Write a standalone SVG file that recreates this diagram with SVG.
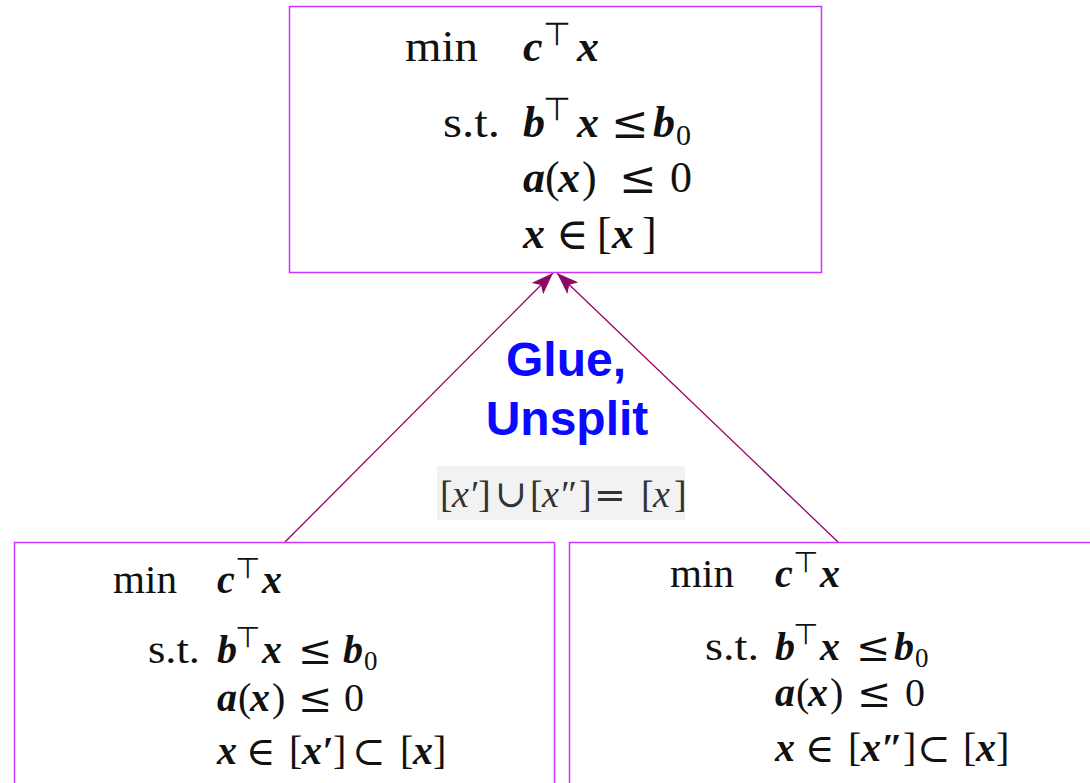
<svg xmlns="http://www.w3.org/2000/svg" width="1090" height="783" viewBox="0 0 1090 783">
<defs>
<style>
.box{fill:#ffffff;stroke:#cc33ff;stroke-width:1.5}
.rm{font-family:"Liberation Serif","DejaVu Serif",serif;fill:#111}
.op{font-family:"DejaVu Serif","Liberation Serif",serif;fill:#111}
.mi{font-family:"Liberation Serif","DejaVu Serif",serif;font-style:italic;font-weight:bold;fill:#111}
.tp{font-family:"DejaVu Sans","Liberation Sans",sans-serif;fill:#111}
.t{font-size:44px}
.b{font-size:40px}
.lbl{font-family:"Liberation Sans",Arial,sans-serif;font-weight:bold;font-size:48px;fill:#0a0aff;text-anchor:middle}
.fm{font-family:"Liberation Serif","DejaVu Serif",serif;font-size:38px;fill:#333}
.fo{font-family:"DejaVu Serif","Liberation Serif",serif;font-size:38px;fill:#333}
.conn{stroke:#990066;stroke-width:1.3;fill:none}
</style>
<marker id="ah" viewBox="0 0 22 16" refX="22" refY="8" markerWidth="22" markerHeight="16" markerUnits="userSpaceOnUse" orient="auto">
<path d="M0,0 L22,8 L0,16 L5,8 Z" fill="#8b0a66"/>
</marker>
</defs>

<g id="connectors">
<line class="conn" x1="285" y1="542" x2="553" y2="273" marker-end="url(#ah)"/>
<line class="conn" x1="838" y1="542" x2="557" y2="273" marker-end="url(#ah)"/>
</g>

<g id="top-node">
<rect class="box" x="289.5" y="6.5" width="532" height="266"/>
<g class="t">
<text class="rm" x="405" y="61" textLength="73" lengthAdjust="spacingAndGlyphs">min</text>
<text class="mi" x="523" y="61">c</text>
<text class="tp" x="543" y="45" font-size="32">⊤</text>
<text class="mi" x="577" y="61">x</text>
<text class="rm" x="443" y="137" textLength="57" lengthAdjust="spacingAndGlyphs">s.t.</text>
<text class="mi" x="523" y="137">b</text>
<text class="tp" x="543" y="120" font-size="32">⊤</text>
<text class="mi" x="577" y="137">x</text>
<text class="op" x="611" y="138" font-size="45">≤</text>
<text class="mi" x="653" y="137">b</text>
<text class="rm" x="676" y="145" font-size="30">0</text>
<text class="mi" x="523" y="192">a</text>
<text class="rm" x="545" y="192">(</text>
<text class="mi" x="558" y="192">x</text>
<text class="rm" x="582" y="192">)</text>
<text class="op" x="619" y="193" font-size="45">≤</text>
<text class="rm" x="670" y="192">0</text>
<text class="mi" x="523" y="248">x</text>
<text class="op" x="556" y="249" font-size="44">∈</text>
<text class="rm" x="597" y="248">[</text>
<text class="mi" x="612" y="248">x</text>
<text class="rm" x="642" y="248">]</text>
</g>
</g>

<g id="label">
<text class="lbl" x="566" y="376">Glue,</text>
<text class="lbl" x="567" y="435">Unsplit</text>
<rect x="437" y="466" width="248" height="54" fill="#f2f2f2"/>
<text class="fm" x="440" y="507">[</text>
<text class="fm" x="452" y="507" font-style="italic">x′</text>
<text class="fm" x="478" y="507">]</text>
<text class="fo" x="495" y="507">∪</text>
<text class="fm" x="530" y="507">[</text>
<text class="fm" x="542" y="507" font-style="italic">x″</text>
<text class="fm" x="579" y="507">]</text>
<text class="fo" x="594" y="508" font-size="42">=</text>
<text class="fm" x="641" y="507">[</text>
<text class="fm" x="653" y="507" font-style="italic">x</text>
<text class="fm" x="674" y="507">]</text>
</g>

<g id="left-node">
<rect class="box" x="14.5" y="542.5" width="540" height="260"/>
<g class="b">
<text class="rm" x="113" y="593" textLength="64" lengthAdjust="spacingAndGlyphs">min</text>
<text class="mi" x="217" y="593">c</text>
<text class="tp" x="235" y="578" font-size="29">⊤</text>
<text class="mi" x="262" y="593">x</text>
<text class="rm" x="148" y="663" textLength="52" lengthAdjust="spacingAndGlyphs">s.t.</text>
<text class="mi" x="217" y="663">b</text>
<text class="tp" x="235" y="647" font-size="29">⊤</text>
<text class="mi" x="262" y="663">x</text>
<text class="op" x="298" y="664" font-size="41">≤</text>
<text class="mi" x="343" y="663">b</text>
<text class="rm" x="364" y="670" font-size="27">0</text>
<text class="mi" x="217" y="711">a</text>
<text class="rm" x="238" y="711">(</text>
<text class="mi" x="250" y="711">x</text>
<text class="rm" x="272" y="711">)</text>
<text class="op" x="298" y="712" font-size="41">≤</text>
<text class="rm" x="344" y="711">0</text>
<text class="mi" x="217" y="764">x</text>
<text class="op" x="246" y="765" font-size="40">∈</text>
<text class="rm" x="289" y="764">[</text>
<text class="mi" x="302" y="764">x′</text>
<text class="rm" x="333" y="764">]</text>
<text class="op" x="352" y="765" font-size="40">⊂</text>
<text class="rm" x="400" y="764">[</text>
<text class="mi" x="413" y="764">x</text>
<text class="rm" x="433" y="764">]</text>
</g>
</g>

<g id="right-node">
<rect class="box" x="569.5" y="542.5" width="530" height="260"/>
<g class="b">
<text class="rm" x="670" y="587" textLength="64" lengthAdjust="spacingAndGlyphs">min</text>
<text class="mi" x="775" y="587">c</text>
<text class="tp" x="793" y="572" font-size="29">⊤</text>
<text class="mi" x="820" y="587">x</text>
<text class="rm" x="705" y="660" textLength="54" lengthAdjust="spacingAndGlyphs">s.t.</text>
<text class="mi" x="775" y="660">b</text>
<text class="tp" x="793" y="644" font-size="29">⊤</text>
<text class="mi" x="820" y="660">x</text>
<text class="op" x="856" y="661" font-size="41">≤</text>
<text class="mi" x="894" y="660">b</text>
<text class="rm" x="915" y="667" font-size="27">0</text>
<text class="mi" x="775" y="706">a</text>
<text class="rm" x="796" y="706">(</text>
<text class="mi" x="808" y="706">x</text>
<text class="rm" x="830" y="706">)</text>
<text class="op" x="857" y="707" font-size="41">≤</text>
<text class="rm" x="905" y="706">0</text>
<text class="mi" x="775" y="761">x</text>
<text class="op" x="805" y="762" font-size="40">∈</text>
<text class="rm" x="848" y="761">[</text>
<text class="mi" x="861" y="761">x″</text>
<text class="rm" x="903" y="761">]</text>
<text class="op" x="917" y="762" font-size="40">⊂</text>
<text class="rm" x="963" y="761">[</text>
<text class="mi" x="976" y="761">x</text>
<text class="rm" x="996" y="761">]</text>
</g>
</g>
</svg>
